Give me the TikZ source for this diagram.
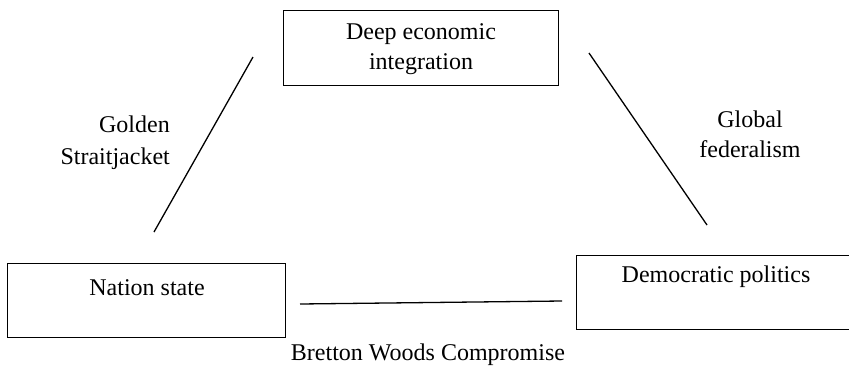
\documentclass[tikz,border=0pt]{standalone}
\usepackage{fontspec}
\setmainfont{Liberation Serif}
\begin{document}
\begin{tikzpicture}[x=1pt,y=-1pt,
  box/.style={draw, line width=1.3pt, inner sep=0pt, anchor=north west},
  txt/.style={font=\rmfamily\fontsize{24}{30}\selectfont, align=center, inner sep=0pt},
  conn/.style={line width=1.3pt}]
\useasboundingbox (0,0) rectangle (849,365);
% boxes
\node[box, minimum width=275pt, minimum height=75pt] (top) at (283,10) {};
\node[box, minimum width=278pt, minimum height=74pt] (left) at (7,263) {};
\node[box, minimum width=276pt, minimum height=74pt] (right) at (576,255) {};
% box texts
\node[txt] (toptxt) at (421,49) {Deep economic\\integration};
\node[txt] (lefttxt) at (147,288) {Nation state};
\node[txt] (righttxt) at (716,277) {Democratic politics};
% connector ends
\coordinate (l1) at (253,57);
\coordinate (l2) at (154,232);
\coordinate (r1) at (589,53);
\coordinate (r2) at (707,225);
\coordinate (b1) at (300,304);
\coordinate (b2) at (562,301);
\draw[conn] (l1) -- (l2);
\draw[conn] (r1) -- (r2);
\draw[conn] (b1) -- (b2);
% labels
\node[txt, font=\rmfamily\fontsize{24}{32}\selectfont, align=right, anchor=east] (golden) at (170,143) {Golden\\Straitjacket};
\node[txt] (global) at (750,134) {Global\\federalism};
\node[txt] (bretton) at (428,355) {Bretton Woods Compromise};
\end{tikzpicture}
\end{document}
